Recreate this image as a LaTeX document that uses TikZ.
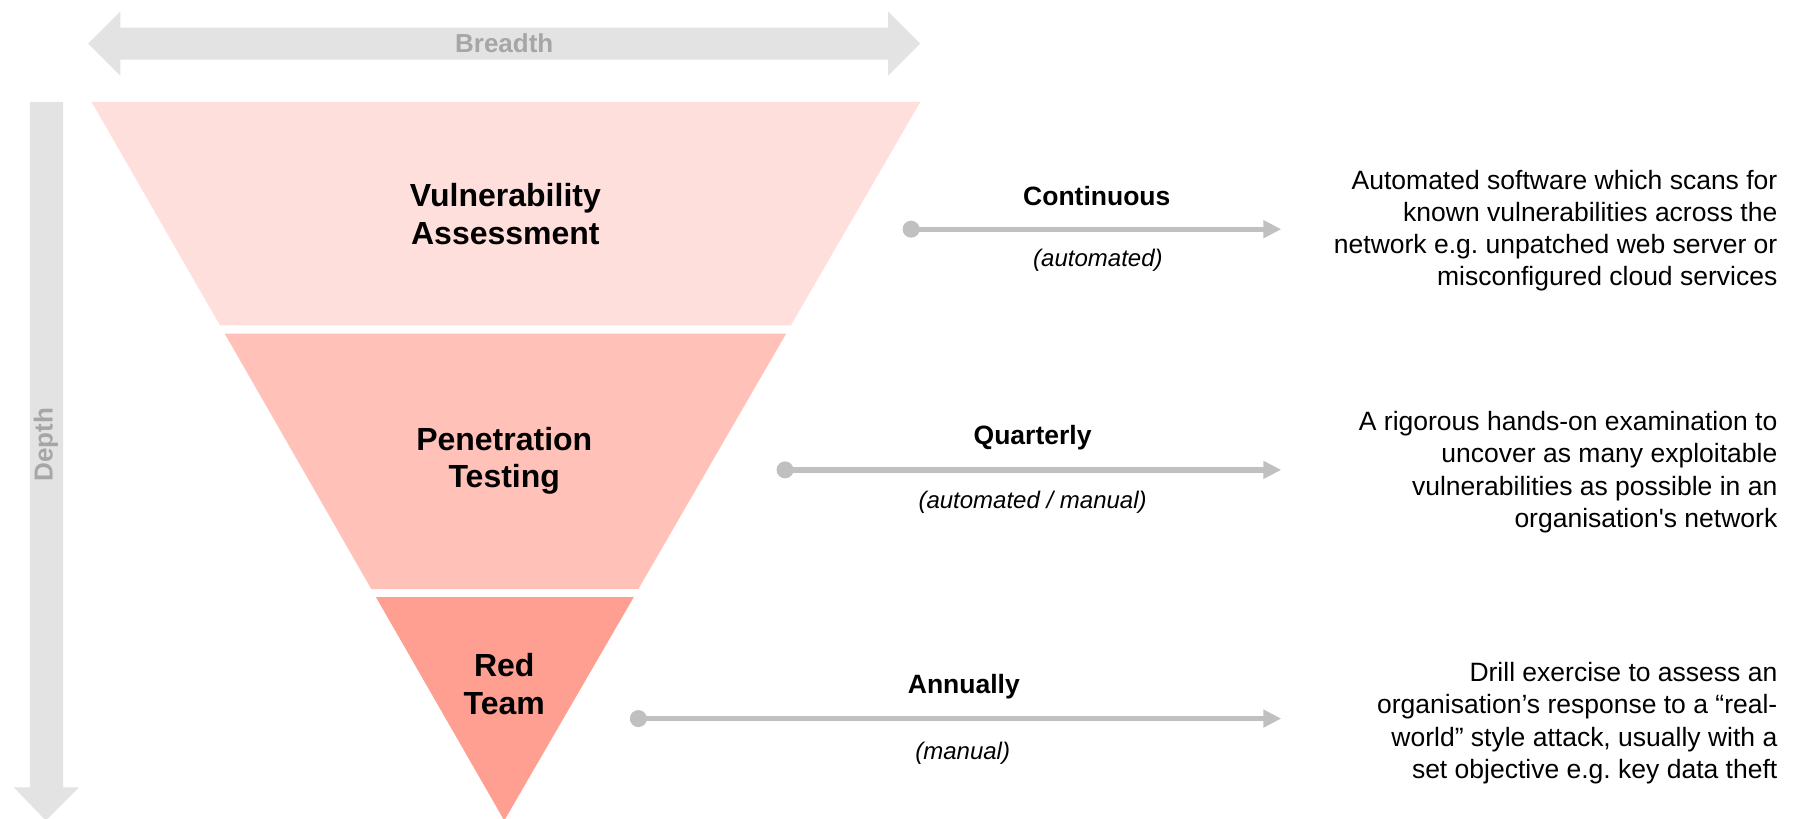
\documentclass[tikz,border=0pt]{standalone}
\usepackage{fontspec}
\setmainfont{Liberation Sans}
\usetikzlibrary{arrows.meta}
\definecolor{layA}{HTML}{FFDFDC}
\definecolor{layB}{HTML}{FFC1B8}
\definecolor{layC}{HTML}{FF9F91}
\definecolor{axisgray}{HTML}{E3E3E3}
\definecolor{axistext}{HTML}{A6A6A6}
\definecolor{conncol}{HTML}{C0C0C0}
\frenchspacing
\begin{document}
\begin{tikzpicture}[x=1.14605pt,y=-1.14605pt,
  layertext/.style={font=\fontsize{32}{37.8}\selectfont\bfseries, align=center, inner sep=0},
  axislabel/.style={font=\fontsize{26}{30}\selectfont\bfseries, text=axistext, inner sep=0},
  freq/.style={font=\fontsize{26.5}{31}\selectfont\bfseries, inner sep=0},
  mode/.style={font=\fontsize{24}{28}\selectfont\itshape, inner sep=0},
  desc/.style={font=\fontsize{26.5}{32.1}\selectfont, align=right, anchor=east, inner sep=0},
  connline/.style={draw=conncol, line width=5.3pt, -{Triangle[length=18pt,width=17pt]}},
  dotc/.style={circle, fill=conncol, minimum size=17pt, inner sep=0}]
\useasboundingbox (0,0) rectangle (1568,714.6);
\fill[white] (0,0) rectangle (1568,714.6);
% breadth arrow
\fill[axisgray] (77,38) -- (105,10) -- (105,24) -- (775,24) -- (775,10) -- (803,38)
  -- (775,66) -- (775,52) -- (105,52) -- (105,66) -- cycle;
\node[axislabel] (breadth) at (440,38) {Breadth};
% depth arrow
\fill[axisgray] (26,89) -- (55,89) -- (55,687) -- (69,687) -- (40,716) -- (12,687) -- (26,687) -- cycle;
\node[axislabel, rotate=90] (depth) at (40,388) {Depth};
% funnel layers
\fill[layA] (80,89) -- (803,89) -- (690,284) -- (192,284) -- cycle;
\fill[layB] (196,291) -- (686,291) -- (557,514) -- (324,514) -- cycle;
\fill[layC] (328,521) -- (553,521) -- (440,716) -- cycle;
\node[layertext] (va) at (441,187) {Vulnerability\\Assessment};
\node[layertext] (pt) at (440,402) {Penetration\\Testing};
\node[layertext] (rt) at (440,597) {Red\\Team};
% connectors
\node[dotc] (d1) at (795,200) {};
\node[dotc] (d2) at (685,410) {};
\node[dotc] (d3) at (557,627) {};
\coordinate (e1) at (1118,200);
\coordinate (e2) at (1118,410);
\coordinate (e3) at (1118,627);
\draw[connline] (d1.center) -- (e1);
\draw[connline] (d2.center) -- (e2);
\draw[connline] (d3.center) -- (e3);
\node[freq] (f1) at (957,171) {Continuous};
\node[freq] (f2) at (901,382) {Quarterly};
\node[freq] (f3) at (841,599) {Annually};
\node[mode] (m1) at (958,227) {(automated)};
\node[mode] (m2) at (901,438) {(automated / manual)};
\node[mode] (m3) at (840,657) {(manual)};
% descriptions
\node[desc] (t1) at (1551,201) {Automated software which scans for\\known vulnerabilities across the\\network e.g. unpatched web server or\\misconfigured cloud services};
\node[desc] (t2) at (1551,412) {A rigorous hands-on examination to\\uncover as many exploitable\\vulnerabilities as possible in an\\organisation\textquotesingle s network};
\node[desc] (t3) at (1551,631) {Drill exercise to assess an\\organisation’s response to a “real-\\world” style attack, usually with a\\set objective e.g. key data theft};
\end{tikzpicture}
\end{document}
